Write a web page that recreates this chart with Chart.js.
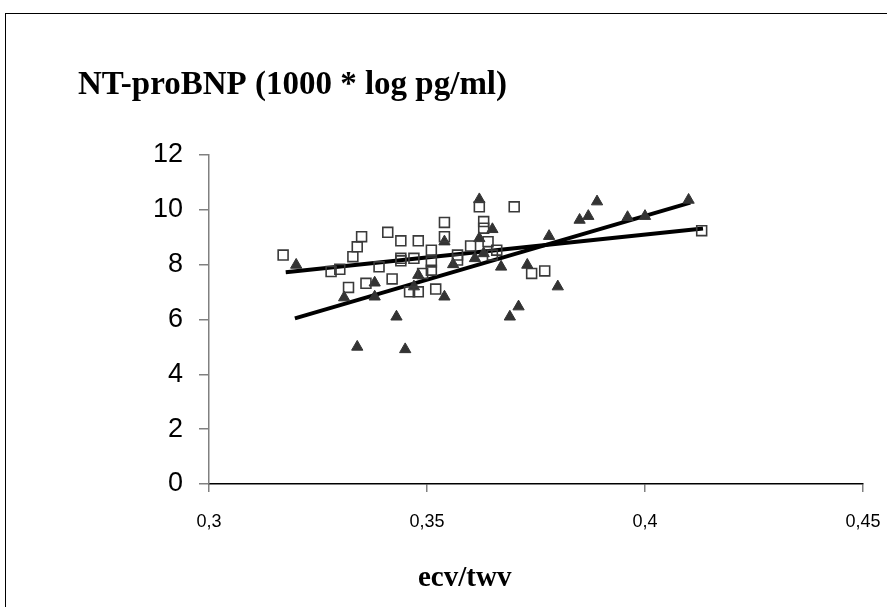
<!DOCTYPE html>
<html>
<head>
<meta charset="utf-8">
<script src="https://cdn.jsdelivr.net/npm/chart.js@4.4.0/dist/chart.umd.min.js"></script>
<style>
  html, body { margin: 0; padding: 0; background: #fff; }
  #wrap { position: relative; width: 887px; height: 607px; overflow: hidden; }
  #frame { position: absolute; left: 5px; top: 13px; width: 1000px; height: 1000px; border: 1.5px solid #000; }
  canvas { position: absolute; left: 0; top: 0; }
</style>
</head>
<body>
<div id="wrap">
  <div id="frame"></div>
  <canvas id="chart" width="887" height="607"></canvas>
</div>
<script>
// ---------- Data ----------
const squareX = [0.317, 0.328, 0.330, 0.333, 0.332, 0.335, 0.334, 0.336, 0.339, 0.341,
                 0.342, 0.344, 0.344, 0.344, 0.347, 0.348, 0.346, 0.348, 0.349, 0.351,
                 0.351, 0.351, 0.352, 0.354, 0.354, 0.357, 0.357, 0.360, 0.362, 0.363,
                 0.363, 0.364, 0.366, 0.365, 0.370, 0.374, 0.377, 0.413];
const squareY = [8.35, 7.75, 7.83, 8.29, 7.17, 9.02, 8.65, 7.32, 7.92, 9.18,
                 7.48, 8.87, 8.23, 8.14, 8.23, 8.87, 7.01, 7.01, 7.68, 7.80,
                 8.53, 8.10, 7.11, 9.54, 9.02, 8.35, 8.17, 8.68, 10.11, 9.57,
                 9.33, 8.84, 8.53, 8.35, 10.11, 7.68, 7.77, 9.24];

const triangleX = [0.320, 0.331, 0.334, 0.338, 0.338, 0.343, 0.345, 0.348, 0.347, 0.354,
                   0.354, 0.356, 0.361, 0.362, 0.362, 0.365, 0.363, 0.367, 0.369, 0.371,
                   0.373, 0.378, 0.380, 0.385, 0.387, 0.389, 0.396, 0.400, 0.410];
const triangleY = [7.99, 6.80, 5.00, 7.34, 6.83, 6.10, 4.91, 7.62, 7.20, 6.83,
                   8.84, 8.01, 8.23, 10.38, 8.96, 9.29, 8.41, 7.92, 6.10, 6.47,
                   7.99, 9.04, 7.20, 9.63, 9.77, 10.30, 9.73, 9.77, 10.36];

// trend lines (end points)
const squareFitX = [0.3176, 0.4133];
const squareFitY = [7.72, 9.32];
const triangleFitX = [0.3197, 0.4104];
const triangleFitY = [6.04, 10.26];

const titleText = "NT-proBNP (1000 * log pg/ml)";
const xTitleText = "ecv/twv";

// ---------- Helpers ----------
function toPoints(xs, ys) {
  return xs.map((x, i) => ({ x: x, y: ys[i] }));
}

// ---------- Titles ----------
const titlesPlugin = {
  id: 'titles',
  afterDraw(chart) {
    const c = chart.ctx;
    c.save();
    c.fillStyle = '#000';
    c.textBaseline = 'alphabetic';
    c.textAlign = 'left';
    c.font = 'bold 33px "Liberation Serif", "Times New Roman", serif';
    c.fillText(titleText, 78, 94);
    c.font = 'bold 29px "Liberation Serif", "Times New Roman", serif';
    c.fillText(xTitleText, 418, 586);
    c.restore();
  }
};

// ---------- Chart ----------
const ctx = document.getElementById('chart').getContext('2d');
new Chart(ctx, {
  type: 'scatter',
  data: {
    datasets: [
      {
        label: 'squares',
        data: toPoints(squareX, squareY),
        pointStyle: 'rect',
        pointRadius: 7,
        pointBorderWidth: 1.6,
        pointBorderColor: '#3a3a3a',
        pointBackgroundColor: 'rgba(0,0,0,0)'
      },
      {
        label: 'triangles',
        data: toPoints(triangleX, triangleY),
        pointStyle: 'triangle',
        pointRadius: 6.5,
        pointBorderWidth: 1,
        pointBorderColor: '#333',
        pointBackgroundColor: '#333'
      },
      {
        label: 'fit squares',
        data: toPoints(squareFitX, squareFitY),
        showLine: true,
        borderColor: '#000',
        borderWidth: 4,
        pointRadius: 0
      },
      {
        label: 'fit triangles',
        data: toPoints(triangleFitX, triangleFitY),
        showLine: true,
        borderColor: '#000',
        borderWidth: 4,
        pointRadius: 0
      }
    ]
  },
  options: {
    responsive: false,
    animation: false,
    layout: { padding: { left: 0, top: 155, right: 24, bottom: 0 } },
    plugins: {
      legend: { display: false },
      tooltip: { enabled: false },
      title: { display: false }
    },
    scales: {
      x: {
        type: 'linear',
        min: 0.3,
        max: 0.45,
        afterFit: (s) => { s.height = 123; s.paddingLeft = 0; s.paddingRight = 0; },
        border: { color: '#000', width: 1.5 },
        grid: { drawOnChartArea: false, color: '#808080', tickLength: 8, lineWidth: 1.5 },
        ticks: {
          stepSize: 0.05,
          padding: 19,
          color: '#000',
          font: { family: '"Liberation Sans", Arial, sans-serif', size: 18 },
          callback: (v) => String(+v.toFixed(2)).replace('.', ',')
        }
      },
      y: {
        min: 0,
        max: 12,
        afterFit: (s) => { s.width = 209; },
        border: { color: '#808080', width: 1.5 },
        grid: { drawOnChartArea: false, color: '#808080', tickLength: 10, lineWidth: 1.5 },
        ticks: {
          stepSize: 2,
          padding: 16,
          color: '#000',
          font: { family: '"Liberation Sans", Arial, sans-serif', size: 27 }
        }
      }
    }
  },
  plugins: [titlesPlugin]
});
</script>
</body>
</html>
